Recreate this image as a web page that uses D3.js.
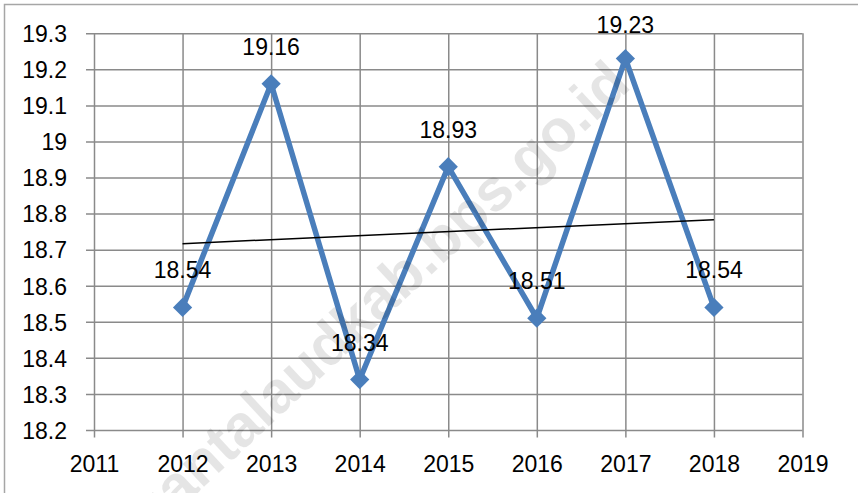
<!DOCTYPE html>
<html><head><meta charset="utf-8">
<script src="https://cdn.jsdelivr.net/npm/d3@7"></script>
<style>html,body{margin:0;padding:0;background:#fff;overflow:hidden}</style>
</head><body>
<svg id="c" width="858" height="493"></svg>
<script>
const years = [2012, 2013, 2014, 2015, 2016, 2017, 2018];
const values = [18.54, 19.16, 18.34, 18.93, 18.51, 19.23, 18.54];
const xTicks = [2011, 2012, 2013, 2014, 2015, 2016, 2017, 2018, 2019];
const yTicks = [18.2, 18.3, 18.4, 18.5, 18.6, 18.7, 18.8, 18.9, 19, 19.1, 19.2, 19.3];
const watermark = "kepulauantalaudkab.bps.go.id";

const svg = d3.select("#c");
const font = "'Liberation Sans', Arial, sans-serif";
const x = d3.scaleLinear().domain([2011, 2019]).range([94, 802.5]);
const y = d3.scaleLinear().domain([18.2, 19.3]).range([430, 33.3]);
const gridColor = "#8a8a8a";

// outer chart border (left and top visible)
svg.append("rect").attr("x", 4.5).attr("y", 4.5).attr("width", 900).attr("height", 600)
  .attr("fill", "none").attr("stroke", "#a6a6a6").attr("stroke-width", 1.5);

// horizontal gridlines + y ticks
const yAxis = d3.axisLeft(y).tickValues(yTicks).tickSize(-(x.range()[1] - x.range()[0]))
  .tickSizeOuter(0).tickFormat(d => String(+d.toFixed(1)));
const gy = svg.append("g").attr("transform", `translate(${x.range()[0]},0)`).call(yAxis);
gy.select(".domain").remove();
gy.selectAll(".tick line").attr("stroke", gridColor).attr("stroke-width", 1.5).attr("x1", -8);
gy.selectAll(".tick text").attr("font-family", font).attr("font-size", 23).attr("fill", "#000")
  .attr("dy", "0.36em").attr("x", -27);

// vertical gridlines + x ticks
const xAxis = d3.axisBottom(x).tickValues(xTicks).tickSize(-(y.range()[0] - y.range()[1]))
  .tickSizeOuter(0).tickFormat(d3.format("d"));
const gx = svg.append("g").attr("transform", `translate(0,${y.range()[0]})`).call(xAxis);
gx.select(".domain").remove();
gx.selectAll(".tick line").attr("stroke", gridColor).attr("stroke-width", 1.5).attr("y1", 7.5);
gx.selectAll(".tick text").attr("font-family", font).attr("font-size", 23).attr("fill", "#000")
  .attr("y", 42).attr("dy", 0);

// data line
const pts = years.map((yr, i) => [yr, values[i]]);
svg.append("path").datum(pts)
  .attr("d", d3.line().x(d => x(d[0])).y(d => y(d[1])))
  .attr("fill", "none").attr("stroke", "#4a7ebb").attr("stroke-width", 5.5)
  .attr("stroke-linejoin", "miter");

// diamond markers
const sq = d3.symbol().type(d3.symbolSquare).size(185);
svg.selectAll(".mk").data(pts).join("path").attr("class", "mk")
  .attr("d", sq).attr("fill", "#4a7ebb")
  .attr("transform", d => `translate(${x(d[0])},${y(d[1])}) rotate(45)`);

// linear trendline (least squares over the data)
const n = years.length;
const mx = d3.mean(years), my = d3.mean(values);
const slope = d3.sum(years, (v, i) => (v - mx) * (values[i] - my)) / d3.sum(years, v => (v - mx) ** 2);
const fit = v => my + slope * (v - mx);
svg.append("line")
  .attr("x1", x(years[0])).attr("y1", y(fit(years[0])))
  .attr("x2", x(years[n - 1])).attr("y2", y(fit(years[n - 1])))
  .attr("stroke", "#000").attr("stroke-width", 1.5);

// data labels
svg.selectAll(".lb").data(pts).join("text").attr("class", "lb")
  .attr("x", d => x(d[0])).attr("y", d => Math.max(y(d[1]) - 29, 33))
  .attr("text-anchor", "middle").attr("font-family", font).attr("font-size", 23)
  .attr("fill", "#000").text(d => d[1].toFixed(2));

// watermark
svg.append("text").attr("transform", "translate(14,664) rotate(-43)")
  .attr("text-anchor", "start").attr("font-family", font).attr("font-weight", "bold")
  .attr("font-size", 59).attr("fill", "#000").attr("fill-opacity", 0.1).text(watermark);
</script>
</body></html>
